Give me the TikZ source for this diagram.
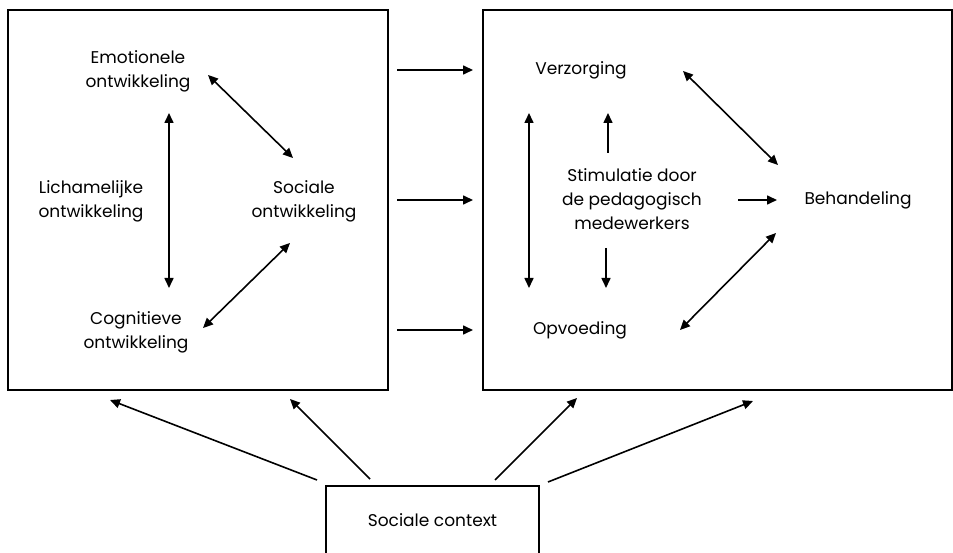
\documentclass[tikz,border=0pt]{standalone}
\usepackage{fontspec}
\setmainfont{Poppins}
\usetikzlibrary{arrows.meta}
\begin{document}
\begin{tikzpicture}[x=1pt,y=-1pt,
  frame/.style={draw,line width=1.8pt,inner sep=0pt},
  lbl/.style={align=center,inner sep=0pt,font=\fontsize{17}{24}\selectfont},
  conn/.style={line width=1.6pt,-{Triangle[length=10pt,width=9pt]}},
  both/.style={line width=1.6pt,{Triangle[length=10pt,width=9pt]}-{Triangle[length=10pt,width=9pt]}}]
\useasboundingbox (0,0) rectangle (953,553);
% the two large panels and the context box
\node[frame,minimum width=380pt,minimum height=380pt] (dev) at (198,200) {};
\node[frame,minimum width=469pt,minimum height=380pt] (care) at (717.5,200) {};
\node[frame,minimum width=213pt,minimum height=76pt] (ctx) at (432.5,524) {};
\node[lbl] (ctxlbl) at (432.5,520) {Sociale context};
% development areas
\node[lbl] (emo) at (138,71) {Emotionele\\ontwikkeling};
\node[lbl] (lich) at (91,201) {Lichamelijke\\ontwikkeling};
\node[lbl] (soc) at (304,201) {Sociale\\ontwikkeling};
\node[lbl] (cog) at (136,332) {Cognitieve\\ontwikkeling};
% care side
\node[lbl] (verz) at (581,70) {Verzorging};
\node[lbl] (opv) at (580,330) {Opvoeding};
\node[lbl] (stim) at (632,199) {Stimulatie door\\de pedagogisch\\medewerkers};
\node[lbl] (beh) at (858,200) {Behandeling};
% arrow end points
\coordinate (a1) at (208,75);  \coordinate (a2) at (293,158);
\coordinate (b1) at (169,113); \coordinate (b2) at (169,288);
\coordinate (c1) at (203,328); \coordinate (c2) at (290,243);
\coordinate (h1a) at (397,70);  \coordinate (h1b) at (473,70);
\coordinate (h2a) at (397,200); \coordinate (h2b) at (473,200);
\coordinate (h3a) at (397,330); \coordinate (h3b) at (473,330);
\coordinate (v1) at (529,113); \coordinate (v2) at (529,288);
\coordinate (u1) at (608,153); \coordinate (u2) at (608,113);
\coordinate (d1) at (606,248); \coordinate (d2) at (606,288);
\coordinate (r1) at (738,200); \coordinate (r2) at (777,200);
\coordinate (vb1) at (683,71); \coordinate (vb2) at (778,165);
\coordinate (ob1) at (680,330); \coordinate (ob2) at (776,233);
\coordinate (s1) at (317,480); \coordinate (t1) at (110,400);
\coordinate (s2) at (370,479); \coordinate (t2) at (290,399);
\coordinate (s3) at (495,480); \coordinate (t3) at (577,398);
\coordinate (s4) at (548,482); \coordinate (t4) at (753,401);
% connectors
\draw[both] (a1) -- (a2);
\draw[both] (b1) -- (b2);
\draw[both] (c1) -- (c2);
\draw[conn] (h1a) -- (h1b);
\draw[conn] (h2a) -- (h2b);
\draw[conn] (h3a) -- (h3b);
\draw[both] (v1) -- (v2);
\draw[conn] (u1) -- (u2);
\draw[conn] (d1) -- (d2);
\draw[conn] (r1) -- (r2);
\draw[both] (vb1) -- (vb2);
\draw[both] (ob1) -- (ob2);
\draw[conn] (s1) -- (t1);
\draw[conn] (s2) -- (t2);
\draw[conn] (s3) -- (t3);
\draw[conn] (s4) -- (t4);
\end{tikzpicture}
\end{document}
